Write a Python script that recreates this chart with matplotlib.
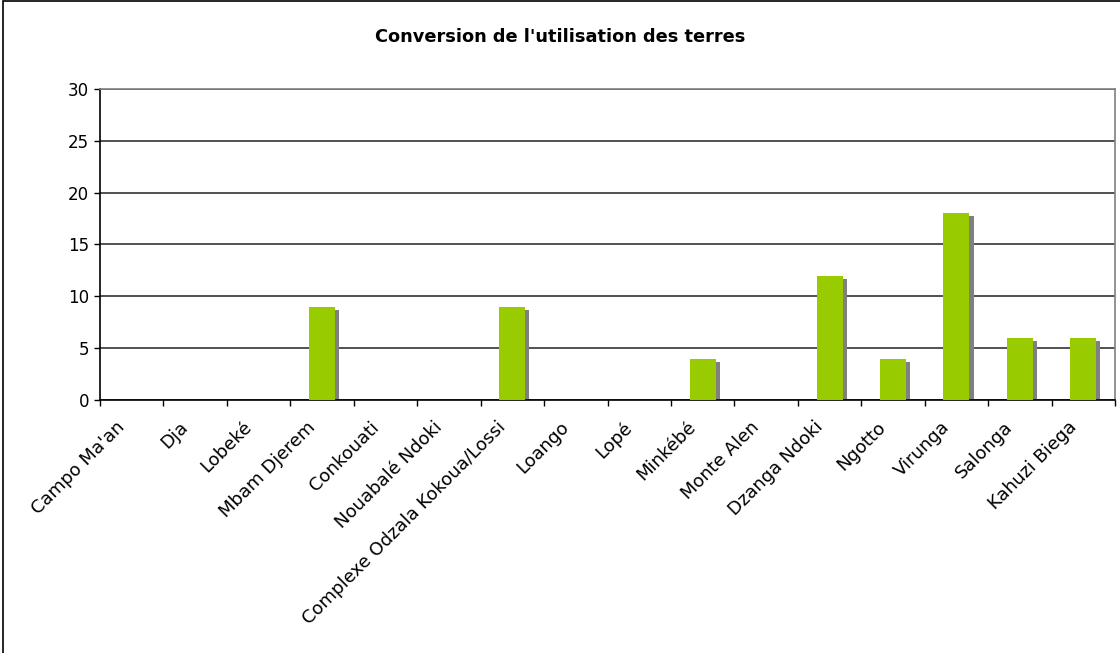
import numpy as np
import matplotlib.pyplot as plt
import matplotlib.transforms as mtransforms
from matplotlib.patches import Rectangle

sites = ["Campo Ma'an", "Dja", "Lobeké", "Mbam Djerem", "Conkouati",
         "Nouabalé Ndoki", "Complexe Odzala Kokoua/Lossi", "Loango", "Lopé",
         "Minkébé", "Monte Alen", "Dzanga Ndoki", "Ngotto", "Virunga",
         "Salonga", "Kahuzi Biega"]
valeurs = [0, 0, 0, 9, 0, 0, 9, 0, 0, 4, 0, 12, 4, 18, 6, 6]
yticks = [0, 5, 10, 15, 20, 25, 30]

plt.rcParams['font.family'] = ['DejaVu Sans']

fig = plt.figure(figsize=(11.2, 6.53), dpi=100)
ax = fig.add_axes([100 / 1120, 1 - 400 / 653, 1015 / 1120, 311 / 653])

x = np.arange(len(sites))
w = 0.41
vals = np.array(valeurs, dtype=float)
mask = vals > 0
# ombre grise derriere les barres
ax.bar(x[mask] + 0.065, vals[mask] - 0.29, width=w, color='#808080', zorder=2)
ax.bar(x[mask], vals[mask], width=w, color='#99CC00', zorder=3)

ax.set_xlim(-0.5, len(sites) - 0.5)
ax.set_ylim(0, 30)
ax.set_yticks(yticks)
ax.yaxis.grid(True, color='#222222', linewidth=1.1)
ax.set_axisbelow(True)

ax.set_xticks(np.arange(len(sites) + 1) - 0.5, minor=False)
ax.set_xticklabels([])
ax.set_xticks(x, minor=True)
ax.set_xticklabels(sites, minor=True, rotation=45, ha='right', va='top',
                   rotation_mode='anchor', fontsize=13)
ax.tick_params(axis='x', which='minor', length=0, pad=8)
ax.tick_params(axis='x', which='major', length=4, width=1, color='black')
ax.tick_params(axis='y', length=4, width=1, labelsize=12, pad=4)

shift = mtransforms.ScaledTranslation(-0.16, -0.07, fig.dpi_scale_trans)
for lab in ax.get_xticklabels(minor=True):
    lab.set_transform(lab.get_transform() + shift)

for s in ['left', 'bottom']:
    ax.spines[s].set_color('black')
    ax.spines[s].set_linewidth(1.2)
for s in ['top', 'right']:
    ax.spines[s].set_color('#808080')
    ax.spines[s].set_linewidth(1.2)

fig.text(0.5, 1 - 37 / 653, "Conversion de l'utilisation des terres",
         ha='center', va='center', fontsize=12.8, fontweight='bold')

# cadre du graphique
fig.patches.append(Rectangle((3 / 1120, -0.1), 1.2, 1.1 - 1.5 / 653,
                             transform=fig.transFigure, fill=False,
                             edgecolor='black', linewidth=1.2))

fig.savefig('out.png', dpi=100)
